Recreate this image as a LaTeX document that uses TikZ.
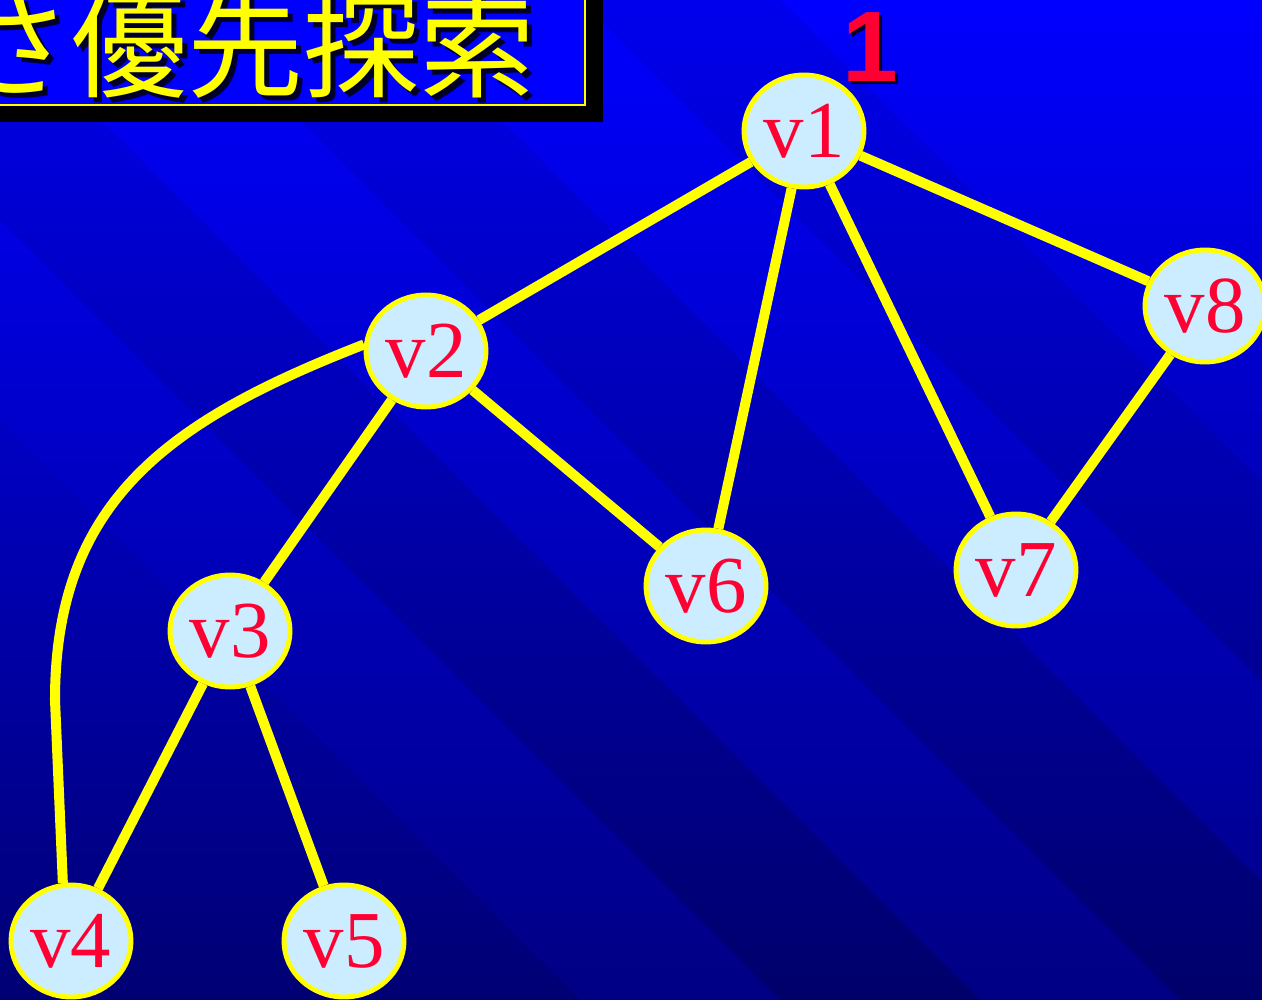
\documentclass[tikz,border=0pt]{standalone}
\usepackage{fontspec}
\setmainfont{Liberation Serif}
\newfontfamily\cjkfont{Noto Sans CJK JP}
\newfontfamily\arialfont{Liberation Sans}
\usetikzlibrary{shapes.geometric}
\definecolor{bgtop}{RGB}{0,0,255}
\definecolor{bgmid}{RGB}{0,0,225}
\definecolor{bgbot}{RGB}{0,0,115}
\definecolor{vyellow}{RGB}{255,255,0}
\definecolor{vfill}{RGB}{204,236,255}
\definecolor{vred}{RGB}{255,0,51}
\definecolor{shadowc}{RGB}{0,0,40}
\tikzset{
  vnode/.style={ellipse, draw=vyellow, line width=2.8pt, fill=vfill, text=vred,
    minimum width=2.4cm, minimum height=2.24cm, inner sep=0pt,
    font=\fontsize{46}{46}\selectfont},
  edge/.style={draw=vyellow, line width=5.7pt},
  stripe/.style={fill=bgtop, opacity=0.12},
  darkstripe/.style={fill=black, opacity=0.07}
}
\begin{document}
\begin{tikzpicture}[x=0.02cm,y=-0.02cm]
\useasboundingbox (0,0) rectangle (1262,1000);
\clip (0,0) rectangle (1262,1000);
% background
\shade[top color=bgtop, middle color=bgmid, bottom color=bgbot] (0,0) rectangle (1262,1000);
% diagonal stripes
\foreach \a in {-420,-20,380}{
  \fill[stripe] (\a,0) -- (\a+200,0) -- (\a+1200,1000) -- (\a+1000,1000) -- cycle;
}
\foreach \a in {-220,180,580}{
  \fill[darkstripe] (\a,0) -- (\a+200,0) -- (\a+1200,1000) -- (\a+1000,1000) -- cycle;
}
% title box
\fill[black] (-20,-20) rectangle (603,122);
\draw[vyellow, line width=1.2pt, fill=bgtop] (-40,-40) rectangle (585,105);
\node[anchor=base east, inner sep=0pt, text=shadowc, font=\cjkfont\fontsize{66}{66}\selectfont] (titleshadow) at (541,94) {深さ優先探索};
\node[anchor=base east, inner sep=0pt, text=vyellow, font=\cjkfont\fontsize{66}{66}\selectfont] (title) at (536,89) {深さ優先探索};
% step number
\node[anchor=base, inner sep=0pt, text=shadowc, font=\arialfont\bfseries\fontsize{57}{57}\selectfont] (numshadow) at (873,85) {1};
\node[anchor=base, inner sep=0pt, text=vred, font=\arialfont\bfseries\fontsize{57}{57}\selectfont] (num) at (870,82) {1};
% nodes
\node[vnode] (v1) at (804,131) {v1};
\node[vnode] (v2) at (426,351) {v2};
\node[vnode] (v3) at (230,631) {v3};
\node[vnode] (v4) at (71,941) {v4};
\node[vnode] (v5) at (344,941) {v5};
\node[vnode] (v6) at (706,586) {v6};
\node[vnode] (v7) at (1016,570) {v7};
\node[vnode] (v8) at (1205,306) {v8};
% edges
\draw[edge] (v1) -- (v2);
\draw[edge] (v1) -- (v6);
\draw[edge] (v1) -- (v7);
\draw[edge] (v1) -- (v8);
\draw[edge] (v8) -- (v7);
\draw[edge] (v2) -- (v3);
\draw[edge] (v2) -- (v6);
\draw[edge] (v3) -- (v4);
\draw[edge] (v3) -- (v5);
\coordinate (bend) at (55,700);
\draw[edge] (v2.174) .. controls (170,420) and (55,500) .. (bend) -- (v4.98);
\end{tikzpicture}
\end{document}
